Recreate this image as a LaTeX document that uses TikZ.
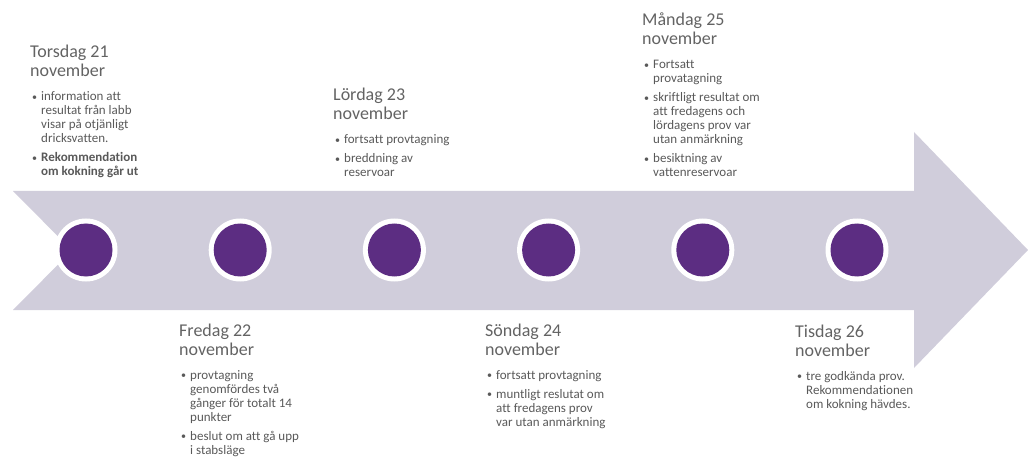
\documentclass[tikz,border=0pt]{standalone}
\usepackage{fontspec}
\setmainfont{Carlito}[Ligatures={NoCommon}]
\definecolor{arrowgrey}{HTML}{D0CDDB}
\definecolor{dotpurple}{HTML}{5C2D82}
\definecolor{txtgrey}{HTML}{595959}
\definecolor{headgrey}{HTML}{636363}
\newlength\bulind
\setlength\bulind{11pt}
\newcommand{\bul}[1]{\par\noindent\hangindent=\bulind\hangafter=1\makebox[\bulind][l]{\hspace{2pt}\raisebox{0.6pt}{\fontsize{10}{10}\selectfont\textbullet}}#1\par}
\newcommand{\bgap}{\vspace{5pt}}
\newcommand{\colbox}[3]{\begin{minipage}[t]{150pt}\raggedright\fontsize{18}{19}\selectfont\leavevmode{\color{headgrey}#1\\#2}\par\fontsize{13}{14}\selectfont\vspace{10pt}#3\end{minipage}}
\begin{document}
\begin{tikzpicture}[x=1pt,y=-1pt,
  txt/.style={anchor=base west, inner sep=0pt, text=txtgrey},
  ring/.style={circle, fill=white, minimum size=63pt, inner sep=0pt},
  dot/.style={circle, fill=dotpurple, minimum size=53pt, inner sep=0pt}]
\useasboundingbox (0,0) rectangle (1028,457);
\fill[arrowgrey] (13,191) -- (914,191) -- (914,132) -- (1028,250) -- (914,368) -- (914,310) -- (13,310) -- (72,250.5) -- cycle;
\foreach \i in {1,...,6}{
  \node[ring] (r\i) at ({86+154.2*(\i-1)},250) {};
  \node[dot] (c\i) at (r\i) {};
}
\node[txt] (t1) at (30,58) {\colbox{Torsdag 21}{november}{\bul{information att\newline resultat från labb\newline visar på otjänligt\newline dricksvatten.}\bgap\bul{\textbf{Rekommendation\newline om kokning går ut}}}};
\node[txt] (t2) at (179,336) {\colbox{Fredag 22}{november}{\bul{provtagning\newline genomfördes två\newline gånger för totalt 14\newline punkter}\bgap\bul{beslut om att gå upp\newline i stabsläge}}};
\node[txt] (t3) at (333,101) {\colbox{Lördag 23}{november}{\bul{fortsatt provtagning}\bgap\bul{breddning av\newline reservoar}}};
\node[txt] (t4) at (485,336) {\colbox{Söndag 24}{november}{\bul{fortsatt provtagning}\bgap\bul{muntligt reslutat om\newline att fredagens prov\newline var utan anmärkning}}};
\node[txt] (t5) at (642,26) {\colbox{Måndag 25}{november}{\bul{Fortsatt\newline provatagning}\bgap\bul{skriftligt resultat om\newline att fredagens och\newline lördagens prov var\newline utan anmärkning}\bgap\bul{besiktning av\newline vattenreservoar}}};
\node[txt] (t6) at (795,337) {\colbox{Tisdag 26}{november}{\bul{tre godkända prov.\newline Rekommendationen\newline om kokning hävdes.}}};
\end{tikzpicture}
\end{document}
